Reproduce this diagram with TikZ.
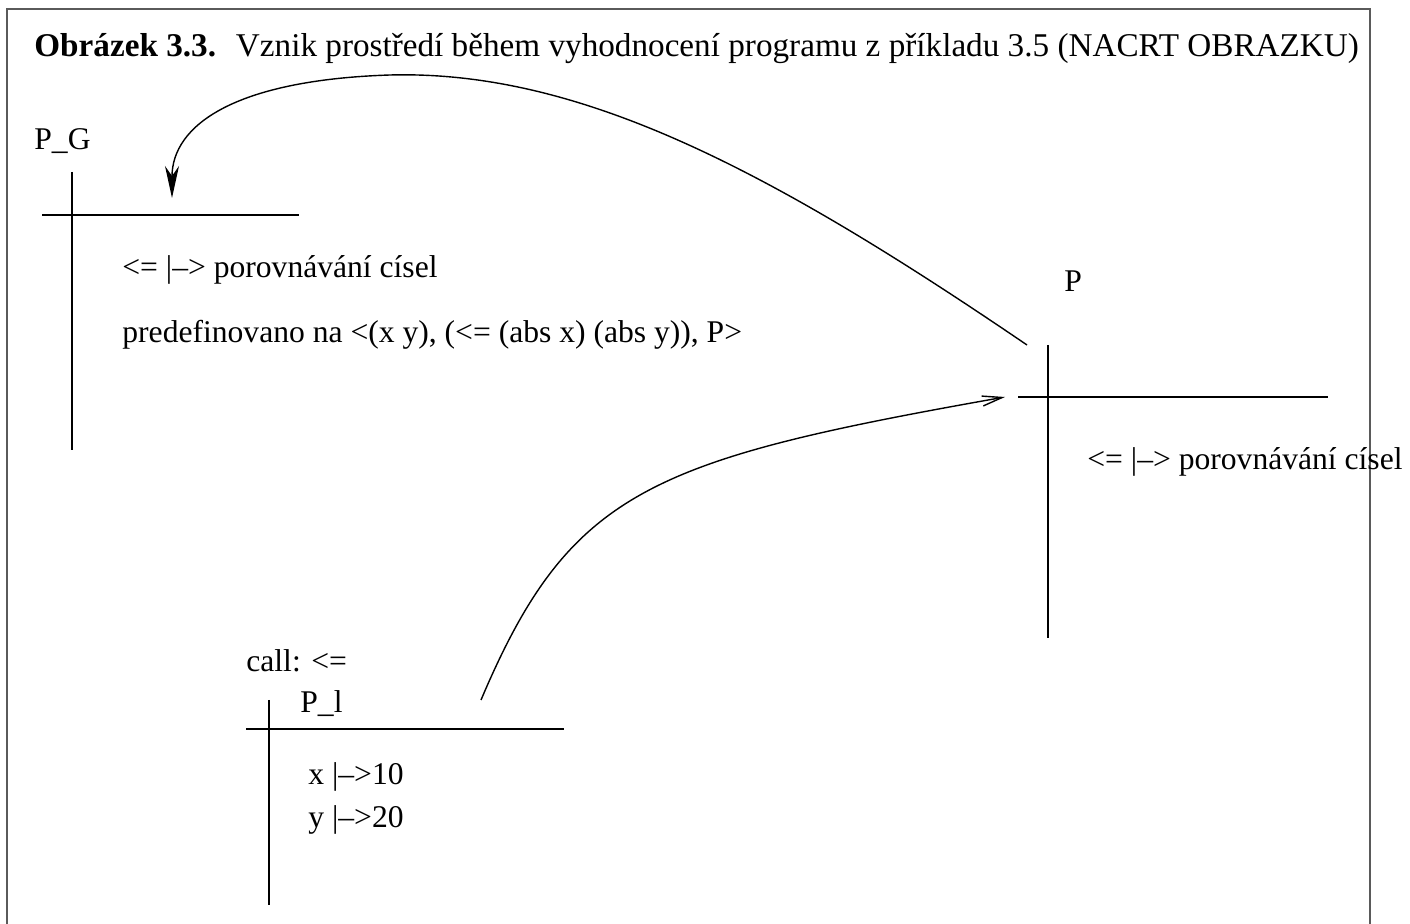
\documentclass[tikz,border=0pt]{standalone}
\usepackage{fontspec}
\setmainfont{Liberation Serif}
\usetikzlibrary{arrows.meta}
\definecolor{framegray}{RGB}{90,90,90}
\begin{document}
\begin{tikzpicture}[x=0.5pt,y=-0.5pt,
  txt/.style={anchor=base west,inner sep=0pt,font=\fontsize{15.8}{18}\selectfont},
  ttl/.style={anchor=base west,inner sep=0pt,font=\fontsize{16.6}{19}\selectfont},
  rule/.style={line width=0.75pt},
  frame/.style={draw=framegray,line width=1pt},
  link/.style={line width=0.7pt}]
\useasboundingbox (0,0) rectangle (1410,924);
\draw[frame] (7,924) -- (7,9) -- (1370,9) -- (1370,924);
\node[ttl] (title) at (34,57) {\textbf{Obrázek 3.3.}\hspace{0.6em}Vznik prostředí během vyhodnocení programu z příkladu 3.5 (NACRT OBRAZKU)};
% P_G frame
\node[txt] (pg) at (34,150) {P\_G};
\coordinate (pgvt) at (72,172); \coordinate (pgvb) at (72,450);
\coordinate (pghl) at (42,215); \coordinate (pghr) at (299,215);
\draw[rule] (pgvt) -- (pgvb);
\draw[rule] (pghl) -- (pghr);
\node[txt] (pga) at (122,278) {<= |–> porovnávání císel};
\node[txt] (pgb) at (122,343) {predefinovano na <(x y), (<= (abs x) (abs y)), P>};
% P frame
\node[txt] (p) at (1064,292) {P};
\coordinate (pvt) at (1048,345); \coordinate (pvb) at (1048,638);
\coordinate (phl) at (1018,397); \coordinate (phr) at (1328,397);
\draw[rule] (pvt) -- (pvb);
\draw[rule] (phl) -- (phr);
\node[txt] (pa) at (1087,470) {<= |–> porovnávání císel};
% P_l frame
\node[txt] (call) at (246,672) {call: <=};
\node[txt] (pl) at (300,713) {P\_l};
\coordinate (plvt) at (269,700); \coordinate (plvb) at (269,905);
\coordinate (plhl) at (246,729); \coordinate (plhr) at (564,729);
\draw[rule] (plvt) -- (plvb);
\draw[rule] (plhl) -- (plhr);
\node[txt] (x) at (308,785) {x |–>10};
\node[txt] (y) at (308,828) {y |–>20};
% connectors
\coordinate (a1s) at (1027,345); \coordinate (a1t) at (172,198);
\draw[link,-{Stealth[length=16pt,width=7pt,inset=5pt]}] (a1s) .. controls (770,170) and (580,70) .. (390,75) .. controls (235,80) and (172,125) .. (a1t);
\coordinate (a2s) at (481,700); \coordinate (a2t) at (1005,397);
\draw[link,-{Straight Barb[length=10pt,width=5pt]}] (a2s) .. controls (570,490) and (650,460) .. (a2t);
\end{tikzpicture}
\end{document}
